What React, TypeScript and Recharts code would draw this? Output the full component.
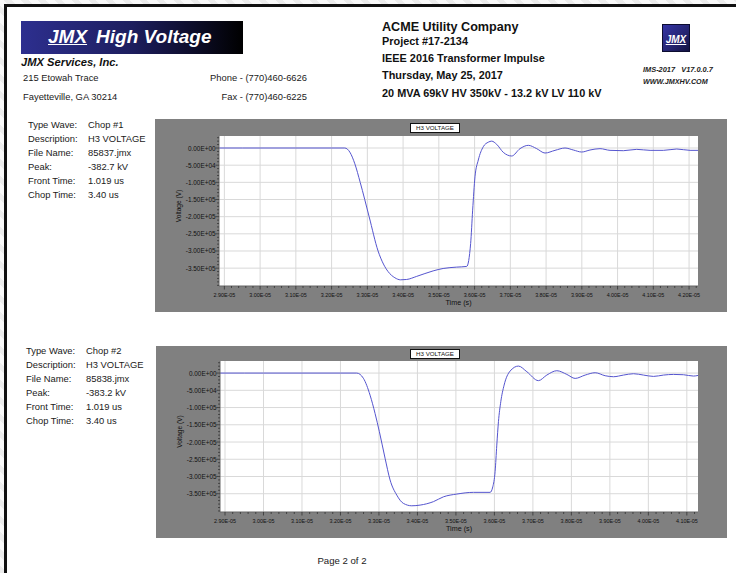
import React from 'react';
import { LineChart, Line, XAxis, YAxis, CartesianGrid } from 'recharts';

// Chop #1 trace: time (s) and voltage (V)
const chop1Time = [
  2.885e-5, 2.95e-5, 3.0e-5, 3.1e-5, 3.2e-5, 3.237e-5, 3.251e-5, 3.265e-5, 3.28e-5, 3.305e-5,
  3.33e-5, 3.345e-5, 3.358e-5, 3.377e-5, 3.393e-5, 3.41e-5, 3.438e-5, 3.484e-5, 3.512e-5, 3.55e-5,
  3.578e-5, 3.589e-5, 3.5946e-5, 3.6011e-5, 3.6104e-5, 3.6244e-5, 3.6384e-5, 3.6478e-5, 3.6618e-5, 3.6803e-5,
  3.7038e-5, 3.727e-5, 3.7503e-5, 3.7738e-5, 3.797e-5, 3.825e-5, 3.853e-5, 3.8762e-5, 3.8997e-5, 3.9229e-5,
  3.9509e-5, 3.9789e-5, 4.0162e-5, 4.0536e-5, 4.0909e-5, 4.1281e-5, 4.1656e-5, 4.2028e-5, 4.225e-5,
];
const chop1Volts = [
  0, 0, 0, 0, 0, 0, -1.2e4, -4.6e4, -1.0e5, -2.0e5,
  -3.0e5, -3.38e5, -3.6e5, -3.78e5, -3.84e5, -3.83e5, -3.74e5, -3.58e5, -3.51e5, -3.47e5,
  -3.45e5, -2.78e5, -1.81e5, -8.4e4, -3.5e4, 3.9e3, 1.7e4, 2.0e4, 1.07e4, -1.26e4,
  -2.33e4, -1.9e3, 7.8e3, -1.9e3, -1.46e4, -6.8e3, 0, -5.8e3, -1.17e4, -5.8e3,
  -1.9e3, -6.8e3, -7.8e3, -3.9e3, -6.8e3, -6.8e3, -2.9e3, -6.8e3, -6.8e3,
];

// Chop #2 trace
const chop2Time = [
  2.887e-5, 2.95e-5, 3.0e-5, 3.1e-5, 3.2e-5, 3.2423e-5, 3.2595e-5, 3.2769e-5, 3.2899e-5, 3.3011e-5,
  3.3159e-5, 3.3289e-5, 3.3463e-5, 3.3635e-5, 3.3853e-5, 3.4069e-5, 3.4415e-5, 3.4675e-5, 3.5022e-5, 3.5455e-5,
  3.5889e-5, 3.5958e-5, 3.6018e-5, 3.6062e-5, 3.6105e-5, 3.6166e-5, 3.6252e-5, 3.6408e-5, 3.6624e-5, 3.6843e-5,
  3.7144e-5, 3.7362e-5, 3.7622e-5, 3.7882e-5, 3.8098e-5, 3.8358e-5, 3.8618e-5, 3.8878e-5, 3.9094e-5, 3.9354e-5,
  3.9614e-5, 3.9874e-5, 4.0134e-5, 4.0393e-5, 4.0653e-5, 4.0913e-5, 4.1173e-5, 4.1294e-5,
];
const chop2Volts = [
  0, 0, 0, 0, 0, 0, -1.5e4, -6.4e4, -1.17e5, -1.7e5,
  -2.47e5, -3.1e5, -3.54e5, -3.78e5, -3.85e5, -3.83e5, -3.73e5, -3.59e5, -3.51e5, -3.46e5,
  -3.46e5, -3.3e5, -2.86e5, -2.09e5, -1.41e5, -8.3e4, -3.5e4, 5.8e3, 2.03e4, 3.9e3,
  -2.2e4, -5.8e3, 6.8e3, -3.9e3, -1.55e4, -5.8e3, 1.0e3, -7.7e3, -1.06e4, -5.8e3,
  -1.9e3, -5.8e3, -9.7e3, -5.8e3, -3.9e3, -4.8e3, -8.7e3, -6.8e3,
];

const chop1TimeTicks = [
  2.9e-5, 3.0e-5, 3.1e-5, 3.2e-5, 3.3e-5, 3.4e-5, 3.5e-5, 3.6e-5, 3.7e-5, 3.8e-5, 3.9e-5, 4.0e-5, 4.1e-5, 4.2e-5,
];
const chop2TimeTicks = [
  2.9e-5, 3.0e-5, 3.1e-5, 3.2e-5, 3.3e-5, 3.4e-5, 3.5e-5, 3.6e-5, 3.7e-5, 3.8e-5, 3.9e-5, 4.0e-5, 4.1e-5,
];
const voltTicks = [-3.5e5, -3.0e5, -2.5e5, -2.0e5, -1.5e5, -1.0e5, -5.0e4, 0];

const infoLabels = ['Type Wave:', 'Description:', 'File Name:', 'Peak:', 'Front Time:', 'Chop Time:'];
const chop1Info = ['Chop #1', 'H3 VOLTAGE', '85837.jmx', '-382.7 kV', '1.019 us', '3.40 us'];
const chop2Info = ['Chop #2', 'H3 VOLTAGE', '85838.jmx', '-383.2 kV', '1.019 us', '3.40 us'];

const FONT = '"Liberation Sans", Arial, sans-serif';
const LINE = '#5555cf';

const sci = (v: number) => {
  const [m, e] = v.toExponential(2).split('e');
  return `${m}E${e[0]}${e.slice(1).padStart(2, '0')}`.toUpperCase();
};

// majors plus n-1 minor ticks between each, clipped to the domain
const withMinor = (majors: number[], n: number, lo: number, hi: number) => {
  const step = (majors[1] - majors[0]) / n;
  const out: number[] = [];
  const total = (majors.length + 1) * n;
  for (let k = 0; k <= total; k++) {
    const v = majors[0] - n * step + k * step;
    if (v >= lo && v <= hi) out.push(v);
  }
  return out;
};
const isMajor = (v: number, majors: number[]) =>
  majors.some((m) => Math.abs(m - v) < Math.abs(majors[1] - majors[0]) * 0.01);

function Txt(props: {
  x: number; y: number; size: number; children: React.ReactNode;
  bold?: boolean; italic?: boolean; align?: 'left' | 'right' | 'center'; color?: string;
}) {
  const { x, y, size, children, bold, italic, align = 'left', color = '#1a1a1a' } = props;
  const lh = Math.round(size * 1.25);
  const tx = align === 'right' ? 'translateX(-100%)' : align === 'center' ? 'translateX(-50%)' : 'none';
  return (
    <div
      style={{
        position: 'absolute', left: x, top: y - lh / 2, lineHeight: `${lh}px`, fontSize: size,
        fontWeight: bold ? 700 : 400, fontStyle: italic ? 'italic' : 'normal', color,
        whiteSpace: 'nowrap', transform: tx, fontFamily: FONT,
      }}
    >
      {children}
    </div>
  );
}

function WaveChart(props: {
  time: number[]; volts: number[]; xTicks: number[]; xDomain: [number, number]; yDomain: [number, number];
  left: number; top: number; width: number; height: number; plotTop: number; titleLeft: number; titleTop: number;
}) {
  const { time, volts, xTicks, xDomain, yDomain, left, top, width, height, plotTop, titleLeft, titleTop } = props;
  const data = time.map((t, i) => ({ t, v: volts[i] }));
  const xAll = withMinor(xTicks, 5, xDomain[0], xDomain[1]);
  const yAll = withMinor(voltTicks, 5, yDomain[0], yDomain[1]);

  const XTick = (p: any) => {
    const major = isMajor(p.payload.value, xTicks);
    return (
      <g>
        <line x1={p.x} x2={p.x} y1={p.y} y2={p.y + (major ? 3.5 : 2)} stroke="#333" strokeWidth={0.8} />
        {major && (
          <text x={p.x} y={p.y + 8.5} textAnchor="middle" dominantBaseline="central" fontSize={5.4} fill="#111" fontFamily={FONT}>
            {sci(p.payload.value)}
          </text>
        )}
      </g>
    );
  };
  const YTick = (p: any) => {
    const major = isMajor(p.payload.value, voltTicks);
    return (
      <g>
        <line x1={p.x - (major ? 3.5 : 2)} x2={p.x} y1={p.y} y2={p.y} stroke="#333" strokeWidth={0.8} />
        {major && (
          <text x={p.x - 3.5} y={p.y} textAnchor="end" dominantBaseline="central" fontSize={6.4} fill="#111" fontFamily={FONT}>
            {sci(p.payload.value)}
          </text>
        )}
      </g>
    );
  };
  const YTitle = (p: any) => {
    const vb = p.viewBox || { x: 0, y: plotTop, width: 64, height: 150 };
    const cx = vb.x + 23;
    const cy = vb.y + vb.height / 2 - 5;
    return (
      <text x={cx} y={cy} transform={`rotate(-90 ${cx} ${cy})`} textAnchor="middle" dominantBaseline="central" fontSize={6.6} fill="#111" fontFamily={FONT}>
        Voltage (V)
      </text>
    );
  };
  const XTitle = (p: any) => {
    const vb = p.viewBox || { x: 64, y: 0, width: 479, height: 26 };
    return (
      <text x={vb.x + vb.width / 2} y={vb.y + 16.5} textAnchor="middle" dominantBaseline="central" fontSize={7.2} fill="#111" fontFamily={FONT}>
        Time (s)
      </text>
    );
  };

  return (
    <div style={{ position: 'absolute', left, top, width, height, background: '#808080' }}>
      <LineChart width={width} height={height} data={data} margin={{ top: plotTop, right: 29, bottom: 0, left: 0 }}>
        <CartesianGrid fill="#ffffff" stroke="#d9d9d9" verticalValues={xTicks} horizontalValues={voltTicks} />
        <XAxis
          dataKey="t" type="number" domain={xDomain} allowDataOverflow ticks={xAll} interval={0} height={26}
          tickSize={0} tickMargin={0} tickLine={false} axisLine={{ stroke: '#666' }} tick={XTick} label={XTitle}
        />
        <YAxis
          type="number" domain={yDomain} allowDataOverflow ticks={yAll} interval={0} width={64}
          tickSize={0} tickMargin={0} tickLine={false} axisLine={{ stroke: '#666' }} tick={YTick} label={YTitle}
        />
        <Line type="monotone" dataKey="v" stroke={LINE} strokeWidth={1} dot={false} isAnimationActive={false} />
      </LineChart>
      <div
        style={{
          position: 'absolute', left: titleLeft, top: titleTop, width: 48, height: 8, border: '1px solid #111',
          background: '#fff', fontSize: 6.2, lineHeight: '8px', textAlign: 'center', color: '#111', fontFamily: FONT,
        }}
      >
        H3 VOLTAGE
      </div>
    </div>
  );
}

function InfoBlock({ x, vx, y, values }: { x: number; vx: number; y: number; values: string[] }) {
  return (
    <>
      {infoLabels.map((l, i) => (
        <Txt key={l} x={x} y={y + i * 14} size={9.4}>{l}</Txt>
      ))}
      {values.map((v, i) => (
        <Txt key={i} x={vx} y={y + i * 14} size={9.4}>{v}</Txt>
      ))}
    </>
  );
}

export default function App() {
  return (
    <div
      style={{
        position: 'absolute', left: 0, top: 0, width: 736, height: 573, overflow: 'hidden', fontFamily: FONT,
        background: 'repeating-linear-gradient(45deg, #ececec 0px, #ececec 5px, #f9f9f9 5px, #f9f9f9 12px)',
      }}
    >
      <div style={{ position: 'absolute', left: 4, top: 4, width: 760, height: 600, background: '#fff', borderLeft: '3px solid #111', borderTop: '3px solid #111' }} />

      {/* left header */}
      <div
        style={{
          position: 'absolute', left: 21, top: 21, width: 222, height: 33,
          background: 'linear-gradient(90deg, #2d2f8f 0%, #1d1e5e 50%, #000 100%)',
        }}
      >
        <div style={{ position: 'absolute', left: 27, top: 4, fontSize: 19, lineHeight: '24px', fontWeight: 700, fontStyle: 'italic', color: '#fff', whiteSpace: 'nowrap' }}>
          <span style={{ textDecoration: 'underline' }}>JMX</span>
          <span style={{ marginLeft: 9 }}>High Voltage</span>
        </div>
      </div>
      <Txt x={21} y={62} size={11.2} bold italic color="#111">JMX Services, Inc.</Txt>
      <Txt x={23} y={78} size={9.4}>215 Etowah Trace</Txt>
      <Txt x={23} y={97} size={9.4}>Fayetteville, GA 30214</Txt>
      <Txt x={307} y={78} size={9.4} align="right">Phone - (770)460-6626</Txt>
      <Txt x={307} y={97} size={9.4} align="right">Fax - (770)460-6225</Txt>

      {/* right header */}
      <Txt x={382} y={27} size={12.6} bold color="#111">ACME Utility Company</Txt>
      <Txt x={382} y={41} size={10.9} bold color="#111">Project #17-2134</Txt>
      <Txt x={382} y={58} size={10.9} bold color="#111">IEEE 2016 Transformer Impulse</Txt>
      <Txt x={382} y={75} size={10.9} bold color="#111">Thursday, May 25, 2017</Txt>
      <Txt x={382} y={93} size={10.9} bold color="#111">20 MVA 69kV HV 350kV - 13.2 kV LV 110 kV</Txt>

      <div
        style={{
          position: 'absolute', left: 662, top: 24, width: 26, height: 26,
          background: 'linear-gradient(135deg, #3434a6 0%, #24246e 60%, #121240 100%)', border: '1px solid #0c0c30',
        }}
      >
        <div style={{ position: 'absolute', left: 0, width: 26, top: 9, textAlign: 'center', fontSize: 10, lineHeight: '12px', fontWeight: 700, fontStyle: 'italic', color: '#fff' }}>
          <span style={{ textDecoration: 'underline' }}>JMX</span>
        </div>
      </div>
      <Txt x={643} y={69} size={7.4} bold italic color="#222">{'IMS-2017\u00a0\u00a0\u00a0V17.0.0.7'}</Txt>
      <Txt x={643} y={81} size={7.2} bold italic color="#222">WWW.JMXHV.COM</Txt>

      {/* chop #1 */}
      <InfoBlock x={28} vx={88} y={125} values={chop1Info} />
      <WaveChart
        time={chop1Time} volts={chop1Volts} xTicks={chop1TimeTicks}
        xDomain={[2.885e-5, 4.225e-5]} yDomain={[-4.02e5, 3.5e4]}
        left={155} top={119} width={572} height={193} plotTop={17} titleLeft={255} titleTop={4}
      />

      {/* chop #2 */}
      <InfoBlock x={26} vx={86} y={351} values={chop2Info} />
      <WaveChart
        time={chop2Time} volts={chop2Volts} xTicks={chop2TimeTicks}
        xDomain={[2.887e-5, 4.129e-5]} yDomain={[-4.03e5, 3.5e4]}
        left={156} top={346} width={571} height={192} plotTop={15} titleLeft={254} titleTop={3}
      />

      <Txt x={342} y={561} size={9.6} align="center">Page 2 of 2</Txt>
    </div>
  );
}
